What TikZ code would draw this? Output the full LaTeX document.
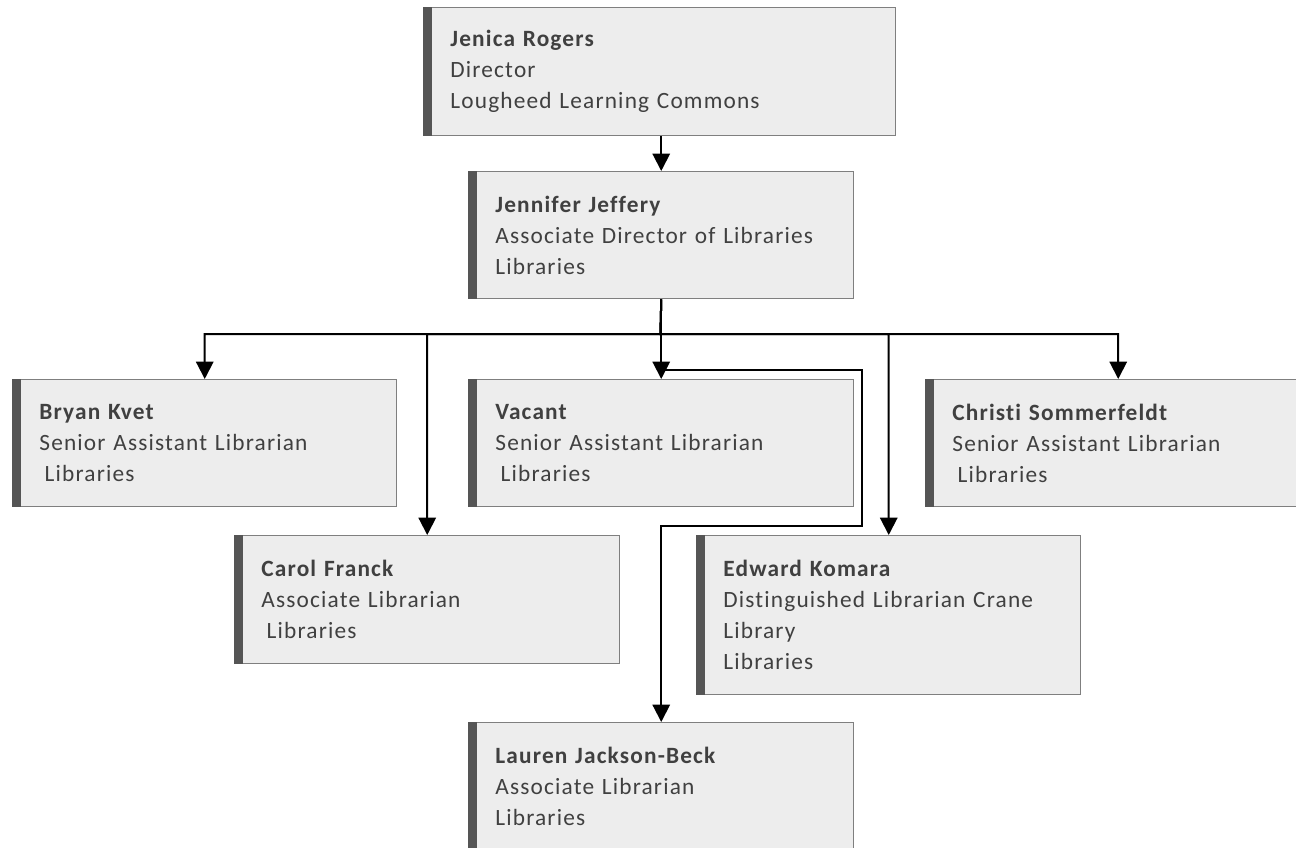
\documentclass[tikz,border=0pt]{standalone}
\usepackage{fontspec}
\setmainfont{Carlito}[LetterSpace=5, Ligatures=NoCommon]
\usetikzlibrary{arrows.meta}

\definecolor{boxfill}{HTML}{EDEDED}
\definecolor{boxline}{HTML}{7F7F7F}
\definecolor{boxbar}{HTML}{555555}
\definecolor{boxtext}{HTML}{404040}

\tikzset{
	person/.style 2 args={draw=boxline, line width=1.1pt, fill=boxfill, anchor=north west,
		align=left, text=boxtext, font=\fontsize{17.5}{23.25}\selectfont,
		inner xsep=20pt, inner ysep=0pt, text width=#1, minimum height=#2},
	link/.style={line width=1.5pt, -{Triangle[width=13pt,length=13pt]}}
}

\begin{document}
\begin{tikzpicture}[x=0.75pt, y=-0.75pt]
				\useasboundingbox (0,0) rectangle (1296,847);
				
				\node[person={314pt}{96pt}] (jenica) at (423,7) {\textbf{Jenica Rogers}\\Director\\Lougheed Learning Commons};
				\node[person={248.75pt}{95.25pt}] (jennifer) at (468,171) {\textbf{Jennifer Jeffery}\\Associate Director of Libraries\\Libraries};
				
				\node[person={248pt}{95.25pt}] (bryan) at (12,379) {\textbf{Bryan Kvet}\\Senior Assistant Librarian\\\hspace*{4pt}Libraries};
				\node[person={248.75pt}{95.25pt}] (vacant) at (468,379) {\textbf{Vacant}\\Senior Assistant Librarian\\\hspace*{4pt}Libraries};
				\node[person={248.75pt}{95.25pt}] (christi) at (925,379) {\textbf{Christi Sommerfeldt}\\Senior Assistant Librarian\\\hspace*{4pt}Libraries};
				\node[person={248.75pt}{96pt}] (carol) at (234,535) {\textbf{Carol Franck}\\Associate Librarian\\\hspace*{4pt}Libraries};
				\node[person={248pt}{119.25pt}] (edward) at (696,535) {\textbf{Edward Komara}\\Distinguished Librarian Crane\\Library\\Libraries};
				\node[person={248.75pt}{96pt}] (lauren) at (468,722) {\textbf{Lauren Jackson-Beck}\\Associate Librarian\\Libraries};
				
				% dark strip on the left of every box
				\foreach \n in {jenica,jennifer,bryan,vacant,christi,carol,edward,lauren}
					\fill[boxbar] (\n.north west) rectangle ([xshift=6.75pt]\n.south west);
				
				\coordinate (bus) at (660.5,334);
				\coordinate (jogtop) at (862,370);
				\coordinate (jogbot) at (862,526);
				
				\draw[link] (jennifer.north |- jenica.south) -- (jennifer.north);
				\draw[link] (jennifer.south) -- (bus) -| (bryan.north);
				\draw[link] (jennifer.south) -- (bus) -| (carol.north);
				\draw[link] (jennifer.south) -- (vacant.north);
				\draw[link] (jennifer.south) -- (bus) -| (edward.north);
				\draw[link] (jennifer.south) -- (bus) -| (christi.north);
				\draw[link] (jennifer.south) -- (vacant.north |- jogtop) -- (jogtop) -- (jogbot) -- (lauren.north |- jogbot) -- (lauren.north);
			\end{tikzpicture}
\end{document}
